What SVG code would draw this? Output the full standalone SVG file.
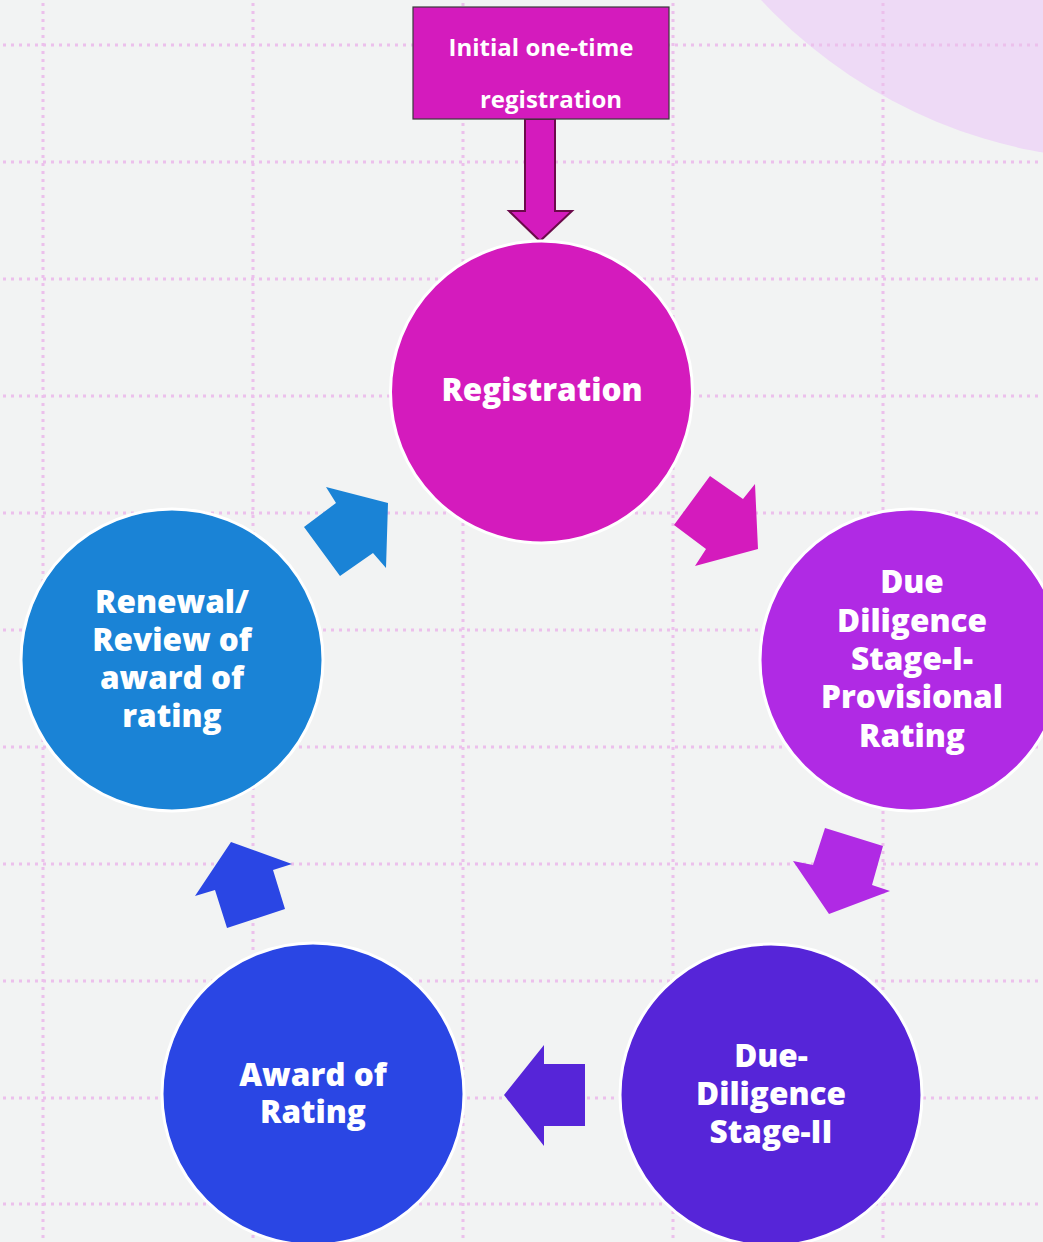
<svg xmlns="http://www.w3.org/2000/svg" width="1043" height="1242" viewBox="0 0 1043 1242">
<style>
.grid line{stroke:#ecc0ec;stroke-width:3;stroke-dasharray:3 5}
.node circle{stroke:#ffffff;stroke-width:3}
.lbl{font-family:"Open Sans",Lato,"Liberation Sans",sans-serif;font-weight:800;font-size:31.5px;fill:#ffffff;text-anchor:middle}
.box{font-family:"Open Sans","Liberation Sans",sans-serif;font-weight:700;font-size:24px;fill:#ffffff;text-anchor:middle}
</style>
<rect width="1043" height="1242" fill="#f2f3f3"/>
<circle cx="1129" cy="-343" r="503" fill="#eedaf6"/>
<g class="grid">
<line x1="3" y1="45" x2="1043" y2="45"/>
<line x1="3" y1="162" x2="1043" y2="162"/>
<line x1="3" y1="279" x2="1043" y2="279"/>
<line x1="3" y1="396" x2="1043" y2="396"/>
<line x1="3" y1="513" x2="1043" y2="513"/>
<line x1="3" y1="630" x2="1043" y2="630"/>
<line x1="3" y1="747" x2="1043" y2="747"/>
<line x1="3" y1="864" x2="1043" y2="864"/>
<line x1="3" y1="981" x2="1043" y2="981"/>
<line x1="3" y1="1098" x2="1043" y2="1098"/>
<line x1="3" y1="1204" x2="1043" y2="1204"/>
<line x1="43" y1="3" x2="43" y2="1242"/>
<line x1="253" y1="3" x2="253" y2="1242"/>
<line x1="463" y1="3" x2="463" y2="1242"/>
<line x1="673" y1="3" x2="673" y2="1242"/>
<line x1="883" y1="3" x2="883" y2="1242"/>
</g>
<g id="connectors">
<polygon points="525,119 555,119 555,211 572,211 540,241 509,211 525,211" fill="#d41bbd" stroke="#6b0a4a" stroke-width="2"/>
<polygon points="710,476 743,499 755,484 758,549 695,566 706,549 674,525" fill="#d41bbd"/>
<polygon points="825,828 883,846 872,885 890,891 829,914 793,861 813,865" fill="#b02ae4"/>
<polygon points="504,1095 544,1045 544,1064 585,1064 585,1126 544,1126 544,1146" fill="#5625d8"/>
<polygon points="231,842 292,864 273,870 285,909 227,928 215,890 195,896" fill="#2a46e4"/>
<polygon points="326,487 388,503 386,568 373,553 340,576 304,527 336,503" fill="#1a83d6"/>
</g>
<g id="initial" class="node">
<rect x="413" y="7" width="256" height="112" fill="#d41bbd" stroke="#3a3a3a" stroke-width="1.2"/>
<text class="box" x="541" y="56">Initial one-time</text>
<text class="box" x="551" y="108">registration</text>
</g>
<g id="registration" class="node">
<circle cx="541.5" cy="392" r="151" fill="#d41bbd"/>
<text class="lbl" x="542" y="401">Registration</text>
</g>
<g id="dd1" class="node">
<circle cx="911" cy="660" r="151" fill="#b02ae4"/>
<text class="lbl" x="912" y="593">Due</text>
<text class="lbl" x="912" y="632">Diligence</text>
<text class="lbl" x="912" y="670">Stage-I-</text>
<text class="lbl" x="912" y="708">Provisional</text>
<text class="lbl" x="912" y="747">Rating</text>
</g>
<g id="dd2" class="node">
<circle cx="771" cy="1095" r="151" fill="#5625d8"/>
<text class="lbl" x="771" y="1067">Due-</text>
<text class="lbl" x="771" y="1105">Diligence</text>
<text class="lbl" x="771" y="1143">Stage-II</text>
</g>
<g id="award" class="node">
<circle cx="313" cy="1094" r="151" fill="#2a46e4"/>
<text class="lbl" x="313" y="1086">Award of</text>
<text class="lbl" x="313" y="1123">Rating</text>
</g>
<g id="renewal" class="node">
<circle cx="172" cy="660" r="151" fill="#1a83d6"/>
<text class="lbl" x="172" y="613">Renewal/</text>
<text class="lbl" x="172" y="651">Review of</text>
<text class="lbl" x="172" y="689">award of</text>
<text class="lbl" x="172" y="727">rating</text>
</g>
</svg>
